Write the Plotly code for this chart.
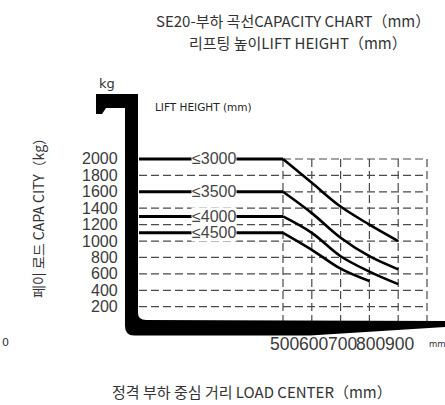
import plotly.graph_objects as go

# ---------------- data ----------------
lift_labels = ["≤3000", "≤3500", "≤4000", "≤4500"]
rated_capacity = [2000, 1600, 1300, 1100]          # kg, flat part (load center 0-500 mm)
flat_centers = [0, 500]                             # mm
curve_centers = [
    [500, 600, 700, 800, 900],
    [500, 600, 700, 800, 900],
    [500, 600, 700, 800, 900],
    [500, 600, 700, 800],
]
curve_capacity = [
    [2000, 1710, 1420, 1200, 1000],
    [1600, 1340, 1040, 815, 655],
    [1300, 1100, 815, 628, 475],
    [1100, 893, 663, 512],
]
y_ticks = [200, 400, 600, 800, 1000, 1200, 1400, 1600, 1800, 2000]
x_ticks = [500, 600, 700, 800, 900]
x_grid = [500, 600, 700, 800, 900, 1000]

# ---------------- geometry helpers (page pixels <-> axis units) ----------------
W, H = 445, 405
X0_PX, X_SCALE = 139.0, 0.288       # px of 0 mm, px per mm
Y0_PX, Y_SCALE = 323.1, 0.08206     # px of 0 kg, px per kg


def px2x(px):
    return (px - X0_PX) / X_SCALE


def py2y(py):
    return (Y0_PX - py) / Y_SCALE


def P(px, py):
    return f"{px / W:.5f},{1 - py / H:.5f}"


fig = go.Figure()

GRID = dict(color="#4a4a4a", width=1.2, dash="8px,4px")

# dashed grid (horizontal)
for v in y_ticks:
    fig.add_trace(go.Scatter(x=[0, 1000], y=[v, v], mode="lines", line=GRID,
                             hoverinfo="skip", showlegend=False))
# dashed grid (vertical)
for v in x_grid:
    fig.add_trace(go.Scatter(x=[v, v], y=[0, 2000], mode="lines", line=GRID,
                             hoverinfo="skip", showlegend=False))

# capacity lines
for i, lab in enumerate(lift_labels):
    fig.add_trace(go.Scatter(x=flat_centers, y=[rated_capacity[i]] * 2, mode="lines",
                             line=dict(color="black", width=3), showlegend=False, name=lab))
    fig.add_trace(go.Scatter(x=curve_centers[i], y=curve_capacity[i], mode="lines",
                             line=dict(color="black", width=2.6, shape="spline", smoothing=1.0),
                             showlegend=False, name=lab))

# ---------------- fork frame ----------------
frame_path = (
    f"M{P(96, 94)} L{P(138, 94)} L{P(138, 313)} Q{P(138, 320)} {P(146, 320)} "
    f"L{P(445, 321)} L{P(445, 327)} L{P(310, 335.5)} L{P(134, 335.5)} "
    f"Q{P(125, 335.5)} {P(125, 326)} L{P(125, 108)} L{P(106, 108)} L{P(102, 114)} L{P(96, 114)} Z"
)
shapes = [dict(type="path", xref="paper", yref="paper", path=frame_path,
               fillcolor="black", line=dict(width=0), layer="above")]

TXT = "#333333"
NUM = "#3a3a3a"
NUMFONT = "Liberation Sans"
C = dict(xanchor="center", yanchor="middle", showarrow=False)


def pa(px, py, text, size, family="DejaVu Sans", color=TXT, **kw):
    d = dict(C)
    d.update(kw)
    return dict(x=px / W, y=1 - py / H, xref="paper", yref="paper", text=text,
                font=dict(family=family, size=size, color=color), **d)


ann = []
# curve labels
for i, lab in enumerate(lift_labels):
    ann.append(dict(x=px2x(213.5), y=rated_capacity[i], xref="x", yref="y", text=lab,
                    bgcolor="white", borderpad=0, **C,
                    font=dict(family=NUMFONT, size=16, color="#444444")))
# y tick labels
for v in y_ticks:
    ann.append(dict(x=px2x(120), y=v, xref="x", yref="y", text=str(v),
                    showarrow=False, xanchor="right", yanchor="middle",
                    font=dict(family=NUMFONT, size=16, color=NUM)))
# x tick labels
for v in x_ticks:
    ann.append(dict(x=v + 5, y=py2y(344), xref="x", yref="y", text=str(v), **C,
                    font=dict(family=NUMFONT, size=17.5, color=NUM)))

ann += [
    dict(x=427 / W, y=1 - 344 / H, xref="paper", yref="paper", text="mm",
         xanchor="left", yanchor="middle", showarrow=False,
         font=dict(family="DejaVu Sans", size=8.5, color=TXT)),
    pa(107, 83, "kg", 13),
    dict(x=153 / W, y=1 - 106.5 / H, xref="paper", yref="paper", text="LIFT HEIGHT (mm)",
         xanchor="left", yanchor="middle", showarrow=False,
         font=dict(family="DejaVu Sans", size=10.5, color="#222")),
    pa(292.5, 21, "SE20-부하 곡선CAPACITY CHART（mm）", 15, family="Noto Sans CJK KR"),
    pa(297.5, 42, "리프팅 높이LIFT HEIGHT（mm）", 15, family="Noto Sans CJK KR"),
    pa(38, 215, "페이 로드 CAPA CITY（kg）", 14, family="Noto Sans CJK KR", textangle=-90),
    pa(252, 391, "정격 부하 중심 거리 LOAD CENTER（mm）", 15, family="Noto Sans CJK KR"),
    dict(x=0, y=1 - 342 / H, xref="paper", yref="paper", text="0",
         xanchor="left", yanchor="middle", showarrow=False,
         font=dict(family="DejaVu Sans", size=11, color=TXT)),
]

fig.update_layout(
    width=W, height=H, autosize=False,
    margin=dict(l=0, r=0, t=0, b=0, pad=0),
    paper_bgcolor="white", plot_bgcolor="white",
    xaxis=dict(range=[px2x(0), px2x(W)], visible=False, fixedrange=True),
    yaxis=dict(range=[py2y(H), py2y(0)], visible=False, fixedrange=True),
    shapes=shapes, annotations=ann, showlegend=False,
)

fig.write_html("out.html", config={"displayModeBar": False},
               post_script="document.body.style.margin='0';document.body.style.overflow='hidden';")
